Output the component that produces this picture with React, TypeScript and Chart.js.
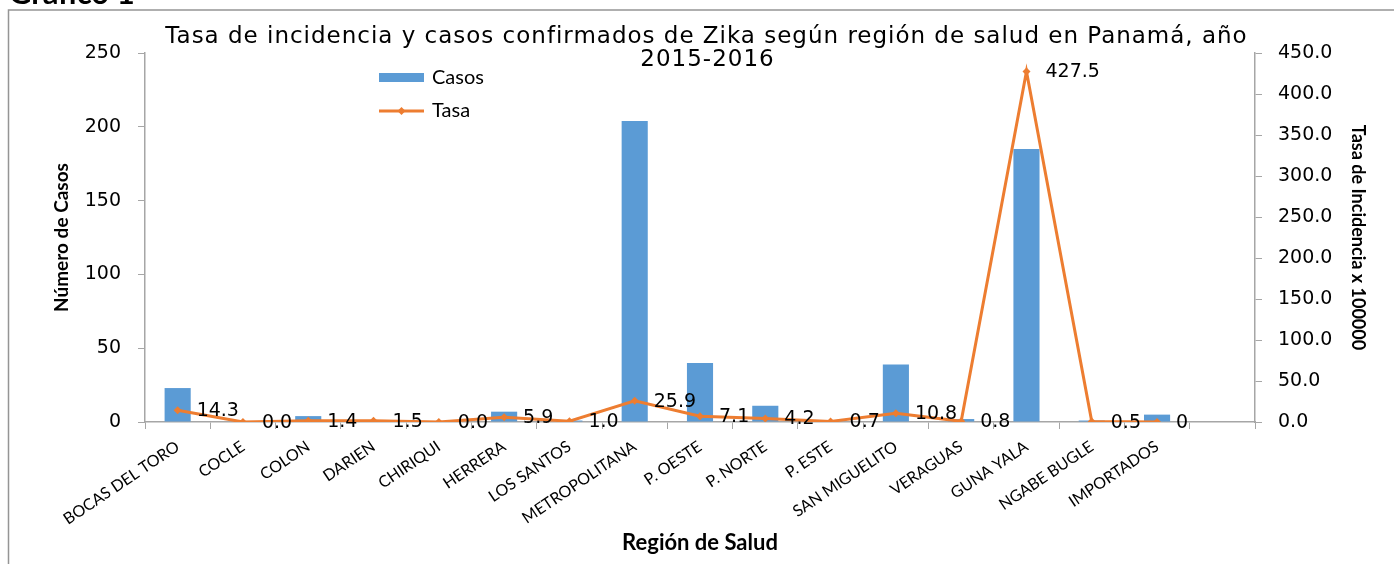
import React, { useEffect, useRef } from "react";
import { Chart, registerables } from "chart.js";

Chart.register(...registerables);

// ---- data ----
const categories = [
  "BOCAS DEL TORO", "COCLE", "COLON", "DARIEN", "CHIRIQUI", "HERRERA", "LOS SANTOS",
  "METROPOLITANA", "P. OESTE", "P. NORTE", "P. ESTE", "SAN MIGUELITO", "VERAGUAS",
  "GUNA YALA", "NGABE BUGLE", "IMPORTADOS", "",
];
const casos = [23, 0, 4, 0, 0, 7, 1, 204, 40, 11, 0, 39, 2, 185, 1, 5, null];
const tasa = [14.3, 0.0, 1.4, 1.5, 0.0, 5.9, 1.0, 25.9, 7.1, 4.2, 0.7, 10.8, 0.8, 427.5, 0.5, 0, null];
const tasaLabels = [
  "14.3", "0.0", "1.4", "1.5", "0.0", "5.9", "1.0", "25.9", "7.1", "4.2", "0.7",
  "10.8", "0.8", "427.5", "0.5", "0", "",
];
const titleLines = [
  "Tasa de incidencia y casos confirmados de Zika según región de salud en Panamá, año",
  "2015-2016",
];
const casosTicksMax = 250;
const tasaTicksMax = 450;
const tickStep = 50;

const BLUE = "#5B9BD5";
const ORANGE = "#ED7D31";
const AXIS = "#A6A6A6";
const VERD = "'DejaVu Sans', sans-serif";
const CAL = "Lato, 'Liberation Sans', sans-serif";

const decor = {
  id: "decor",
  beforeDraw(chart: any) {
    const ctx = chart.ctx;
    ctx.save();
    ctx.fillStyle = "#fff";
    ctx.fillRect(0, 0, chart.width, chart.height);
    ctx.strokeStyle = "#959595";
    ctx.lineWidth = 1.5;
    ctx.strokeRect(8.5, 10, chart.width + 20, chart.height + 20);
    ctx.fillStyle = "#000";
    ctx.font = `bold 31px ${CAL}`;
    ctx.textAlign = "left";
    ctx.textBaseline = "alphabetic";
    ctx.fillText("Gráfico 1", 9, 4);
    ctx.restore();
  },
  afterDatasetsDraw(chart: any) {
    const ctx = chart.ctx;
    const meta = chart.getDatasetMeta(1);
    ctx.save();
    ctx.fillStyle = "#000";
    ctx.font = `19px ${VERD}`;
    ctx.textAlign = "left";
    ctx.textBaseline = "middle";
    meta.data.forEach((el: any, i: number) => {
      if (tasa[i] === null || tasa[i] === undefined) return;
      ctx.fillText(tasaLabels[i], el.x + 19, el.y + 1);
    });
    ctx.restore();
  },
  afterDraw(chart: any) {
    const ctx = chart.ctx;
    ctx.save();
    // title
    ctx.fillStyle = "#000";
    ctx.font = `23px ${VERD}`;
    ctx.textAlign = "center";
    ctx.textBaseline = "middle";
    const w0 = ctx.measureText(titleLines[0]).width;
    const ls = Math.max(0, (1082 - w0) / titleLines[0].length);
    (ctx as any).letterSpacing = `${ls.toFixed(2)}px`;
    ctx.fillText(titleLines[0], 706 + ls / 2, 37);
    ctx.fillText(titleLines[1], 707 + ls / 2, 60);
    (ctx as any).letterSpacing = "0px";
    // legend
    ctx.fillStyle = BLUE;
    ctx.fillRect(379, 73, 45, 9);
    ctx.strokeStyle = ORANGE;
    ctx.lineWidth = 3;
    ctx.beginPath();
    ctx.moveTo(379, 111);
    ctx.lineTo(424, 111);
    ctx.stroke();
    ctx.fillStyle = ORANGE;
    ctx.beginPath();
    ctx.moveTo(401.5, 107);
    ctx.lineTo(405.5, 111);
    ctx.lineTo(401.5, 115);
    ctx.lineTo(397.5, 111);
    ctx.closePath();
    ctx.fill();
    ctx.fillStyle = "#000";
    ctx.font = `20px ${CAL}`;
    ctx.textAlign = "left";
    ctx.fillText("Casos", 432, 78);
    ctx.fillText("Tasa", 432, 111);
    ctx.restore();
  },
};

export default function App() {
  const ref = useRef<HTMLCanvasElement | null>(null);

  useEffect(() => {
    if (!ref.current) return;
    const chart = new Chart(ref.current, {
      type: "bar",
      data: {
        labels: categories,
        datasets: [
          {
            type: "bar",
            label: "Casos",
            data: casos as any,
            backgroundColor: BLUE,
            borderWidth: 0,
            barPercentage: 0.4,
            categoryPercentage: 1.0,
            yAxisID: "y",
            order: 2,
          },
          {
            type: "line",
            label: "Tasa",
            data: tasa as any,
            borderColor: ORANGE,
            backgroundColor: ORANGE,
            borderWidth: 3,
            pointStyle: "rectRot",
            pointRadius: 4,
            pointBackgroundColor: ORANGE,
            pointBorderWidth: 0,
            tension: 0,
            yAxisID: "y1",
            order: 1,
          } as any,
        ],
      },
      options: {
        animation: false,
        responsive: false,
        devicePixelRatio: 1,
        layout: { padding: { top: 53, left: 0, right: 0, bottom: 0 } },
        plugins: {
          legend: { display: false },
          tooltip: { enabled: false },
          title: { display: false },
        },
        scales: {
          x: {
            offset: true,
            grid: {
              offset: true,
              display: true,
              drawOnChartArea: false,
              drawTicks: true,
              tickLength: 7,
              color: AXIS,
            },
            border: { display: true, color: AXIS, width: 1.5 },
            ticks: {
              autoSkip: false,
              minRotation: 34,
              maxRotation: 34,
              color: "#000",
              padding: 8,
              font: { family: CAL, size: 16 },
            },
            title: {
              display: true,
              text: "Región de Salud",
              color: "#000",
              font: { family: CAL, size: 22, weight: "bold" },
              padding: { top: 0, bottom: 8 },
            },
            afterFit: (s: any) => {
              s.height = 142;
            },
          },
          y: {
            position: "left",
            min: 0,
            max: casosTicksMax,
            grid: { drawOnChartArea: false, drawTicks: true, tickLength: 7, color: AXIS },
            border: { display: true, color: AXIS, width: 1.5 },
            ticks: {
              stepSize: tickStep,
              color: "#000",
              padding: 17,
              font: { family: VERD, size: 19 },
            },
            title: {
              display: true,
              text: "Número de Casos",
              color: "#000",
              font: { family: CAL, size: 19, weight: "bold" },
              padding: { top: 50, bottom: 0 },
            },
            afterFit: (s: any) => {
              s.width = 145;
            },
          },
          y1: {
            position: "right",
            min: 0,
            max: tasaTicksMax,
            grid: { drawOnChartArea: false, drawTicks: true, tickLength: 7, color: AXIS },
            border: { display: true, color: AXIS, width: 1.5 },
            ticks: {
              stepSize: tickStep,
              color: "#000",
              padding: 16,
              font: { family: VERD, size: 19 },
              callback: (v: any) => Number(v).toFixed(1),
            },
            title: {
              display: true,
              text: "Tasa de Incidencia x 100000",
              color: "#000",
              font: { family: CAL, size: 18, weight: "bold" },
              padding: { top: 25, bottom: 0 },
            },
            afterFit: (s: any) => {
              s.width = 139;
            },
          },
        },
      } as any,
      plugins: [decor],
    });
    return () => chart.destroy();
  }, []);

  return (
    <div
      style={{
        position: "fixed",
        left: 0,
        top: 0,
        width: 1394,
        height: 564,
        overflow: "hidden",
        background: "#fff",
      }}
    >
      <canvas ref={ref} width={1394} height={564} style={{ width: 1394, height: 564, display: "block" }} />
    </div>
  );
}
